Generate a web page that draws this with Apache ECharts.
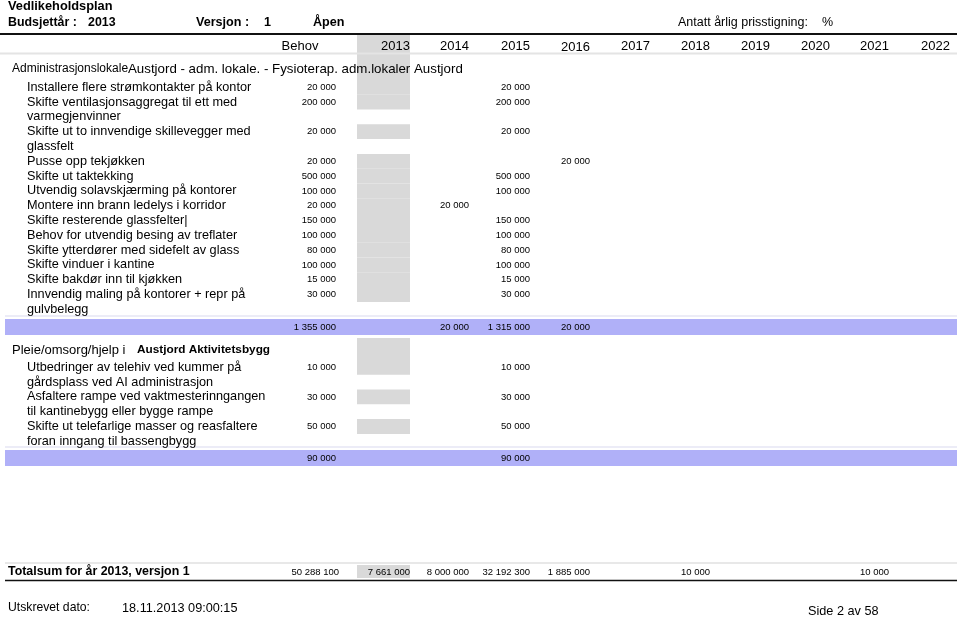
<!DOCTYPE html>
<html>
<head>
<meta charset="utf-8">
<script src="https://cdn.jsdelivr.net/npm/echarts@6/dist/echarts.min.js"></script>
<style>html,body{margin:0;padding:0;background:#fff}#c{width:960px;height:617px}</style>
</head>
<body>
<div id="c"></div>
<script>
// ---------------- DATA ----------------
const reportTitle = 'Vedlikeholdsplan';
const budgetYear = '2013';
const versionNo = '1';
const statusText = 'Åpen';
const priceLabel = 'Antatt årlig prisstigning:';
const priceUnit = '%';
const columns = ['Behov', '2013', '2014', '2015', '2016', '2017', '2018', '2019', '2020', '2021', '2022'];

const sec1HeadA = 'Administrasjonslokale';
const sec1HeadB = 'Austjord - adm. lokale. - Fysioterap. adm.lokaler Austjord';
const sec1Items = [
  'Installere flere strømkontakter på kontor',
  'Skifte ventilasjonsaggregat til ett med\nvarmegjenvinner',
  'Skifte ut to innvendige skillevegger med\nglassfelt',
  'Pusse opp tekjøkken',
  'Skifte ut taktekking',
  'Utvendig solavskjærming på kontorer',
  'Montere inn brann ledelys i korridor',
  'Skifte resterende glassfelter|',
  'Behov for utvendig besing av treflater',
  'Skifte ytterdører med sidefelt av glass',
  'Skifte vinduer i kantine',
  'Skifte bakdør inn til kjøkken',
  'Innvendig maling på kontorer + repr på\ngulvbelegg'
];
const sec1Behov = [20000, 200000, 20000, 20000, 500000, 100000, 20000, 150000, 100000, 80000, 100000, 15000, 30000];
const sec1PlanYear = ['2015', '2015', '2015', '2016', '2015', '2015', '2014', '2015', '2015', '2015', '2015', '2015', '2015'];
const sec1TotalCols = ['Behov', '2014', '2015', '2016'];
const sec1TotalVals = [1355000, 20000, 1315000, 20000];

const sec2HeadA = 'Pleie/omsorg/hjelp i';
const sec2HeadB = 'Austjord Aktivitetsbygg';
const sec2Items = [
  'Utbedringer av telehiv ved kummer på\ngårdsplass ved AI administrasjon',
  'Asfaltere rampe ved vaktmesterinngangen\ntil kantinebygg eller bygge rampe',
  'Skifte ut telefarlige masser og reasfaltere\nforan inngang til bassengbygg'
];
const sec2Behov = [10000, 30000, 50000];
const sec2PlanYear = ['2015', '2015', '2015'];
const sec2TotalCols = ['Behov', '2015'];
const sec2TotalVals = [90000, 90000];

const grandLabel = 'Totalsum for år 2013, versjon 1';
const grandCols = ['Behov', '2013', '2014', '2015', '2016', '2018', '2021'];
const grandVals = [50288100, 7661000, 8000000, 32192300, 1885000, 10000, 10000];

const printedLabel = 'Utskrevet dato:';
const printedDate = '18.11.2013 09:00:15';
const pageText = 'Side 2 av 58';

// ---------------- LAYOUT ----------------
const W = 960, H = 617;
const FONT = "'Liberation Sans', Arial, sans-serif";
const colRight = [336, 410, 469, 530, 590, 650, 710, 770, 830, 889, 950];
const shadeX0 = 357, shadeX1 = 410;
const LH = 14.8;
const BODY = 12.7;
const GRAY = '#d9d9d9', LAV = '#b0b0f8', LIGHT = '#e4e4e4';

const fmt = n => String(n).replace(/\B(?=(\d{3})+(?!\d))/g, ' ');
const colX = c => colRight[columns.indexOf(c)];

const els = [];
const text = (x, y, s, o = {}) => els.push(Object.assign({ t: 'text', x, y, s, size: BODY, weight: 'normal', align: 'left' }, o));
const rect = (x, y, w, h, color) => els.push({ t: 'rect', x, y, w, h, color });
const line = (x, y, x2, y2, color, width) => els.push({ t: 'line', x, y, x2, y2, color, width });

// header block
text(8, 6, reportTitle, { weight: 'bold', size: 12.8 });
text(8, 23, 'Budsjettår :', { weight: 'bold', size: 12.4 });
text(88, 23, budgetYear, { weight: 'bold', size: 12.4 });
text(196, 23, 'Versjon :', { weight: 'bold', size: 12.6 });
text(264, 23, versionNo, { weight: 'bold', size: 12.6 });
text(313, 23, statusText, { weight: 'bold', size: 12.6 });
text(678, 23, priceLabel, { size: 12.5 });
text(822, 23, priceUnit, { size: 12.5 });
line(0, 34, 957, 34, '#111', 2);

const headerY = 46;
const sec1HeadY = 68;
const sec1Start = 87.3;
// shaded 2013 column: header + section heading
rect(shadeX0, 35, shadeX1 - shadeX0, sec1Start - LH / 2 - 35, GRAY);
line(0, 53.5, 957, 53.5, LIGHT, 2);
columns.forEach((c, i) => {
  if (c === 'Behov') text(300, headerY, c, { align: 'center', size: 13 });
  else text(colRight[i], headerY + (c === '2016' ? 1 : 0), c, { align: 'right', size: 13 });
});

function section(items, behov, planYear, startY) {
  let y = startY;
  items.forEach((it, i) => {
    const lines = it.split('\n');
    rect(shadeX0, y - LH / 2, shadeX1 - shadeX0, LH, GRAY);
    lines.forEach((ln, k) => text(27, y + k * LH, ln));
    text(colX('Behov'), y, fmt(behov[i]), { size: 9.5, align: 'right' });
    text(colX(planYear[i]), y, fmt(behov[i]), { size: 9.5, align: 'right' });
    y += lines.length * LH;
  });
  return y - LH; // centre of last printed line
}
function totalRow(cols, vals, y) {
  line(5, y - 11, 957, y - 11, '#e6e6f4', 1.5);
  rect(5, y - 8, 952, 16, LAV);
  cols.forEach((c, i) => text(colX(c), y, fmt(vals[i]), { size: 9.5, align: 'right' }));
}

// section 1
text(12, sec1HeadY + 1, sec1HeadA, { size: 12 });
text(128, sec1HeadY + 1, sec1HeadB, { size: 13.3 });
const s1Last = section(sec1Items, sec1Behov, sec1PlanYear, sec1Start);
const s1TotY = s1Last + 17.7;
totalRow(sec1TotalCols, sec1TotalVals, s1TotY);

// section 2
const sec2HeadY = s1TotY + 23;
const sec2Start = sec2HeadY + 17.3;
rect(shadeX0, sec2HeadY - 12, shadeX1 - shadeX0, sec2Start - LH / 2 - (sec2HeadY - 12), GRAY);
text(12, sec2HeadY, sec2HeadA, { size: 13 });
text(137, sec2HeadY, sec2HeadB, { weight: 'bold', size: 11.8 });
const s2Last = section(sec2Items, sec2Behov, sec2PlanYear, sec2Start);
totalRow(sec2TotalCols, sec2TotalVals, s2Last + 16.7);

// grand total
const gY = 572;
line(5, gY - 9, 957, gY - 9, '#e8e8e8', 2);
rect(shadeX0, gY - 7, shadeX1 - shadeX0, 13, GRAY);
text(8, gY, grandLabel, { weight: 'bold', size: 12.4 });
grandCols.forEach((c, i) => text(colX(c) + (c === 'Behov' ? 3 : 0), gY, fmt(grandVals[i]), { size: 9.5, align: 'right' }));
line(5, gY + 8.5, 957, gY + 8.5, '#111', 1.6);

// footer
text(8, 608, printedLabel, { size: 12.2 });
text(122, 608, printedDate, { size: 12.7 });
text(808, 611, pageText, { size: 12.7 });

// ---------------- CHART ----------------
const order = els.map((e, i) => ({ e, i })).sort((a, b) => (a.e.t === 'text') - (b.e.t === 'text'));
const chart = echarts.init(document.getElementById('c'), null, { renderer: 'canvas' });
chart.setOption({
  backgroundColor: '#ffffff',
  animation: false,
  grid: { left: 0, right: 0, top: 0, bottom: 0 },
  xAxis: { type: 'value', min: 0, max: W, show: false },
  yAxis: { type: 'value', min: 0, max: H, inverse: true, show: false },
  series: [{
    type: 'custom',
    clip: false,
    silent: true,
    data: order.map(o => [o.e.x, o.e.y, o.i]),
    renderItem: function (params, api) {
      const e = els[api.value(2)];
      const p = api.coord([e.x, e.y]);
      if (e.t === 'rect') {
        const s = api.size([e.w, e.h]);
        return { type: 'rect', shape: { x: p[0], y: p[1], width: s[0], height: s[1] }, style: { fill: e.color } };
      }
      if (e.t === 'line') {
        const q = api.coord([e.x2, e.y2]);
        return { type: 'line', shape: { x1: p[0], y1: p[1], x2: q[0], y2: q[1] }, style: { stroke: e.color, lineWidth: e.width } };
      }
      return {
        type: 'text', x: p[0], y: p[1],
        style: { text: e.s, fill: '#000', fontSize: e.size, fontWeight: e.weight, fontFamily: FONT, align: e.align, verticalAlign: 'middle' }
      };
    }
  }]
});
</script>
</body>
</html>
